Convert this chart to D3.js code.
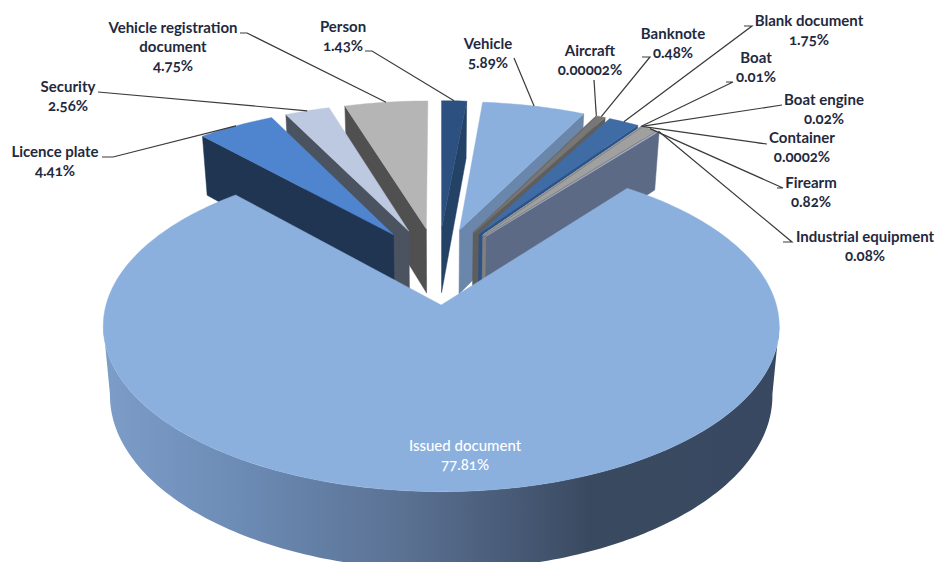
<!DOCTYPE html>
<html>
  <head>
    <title>Exploded 3D pie</title>
    <script src="https://cdn.jsdelivr.net/npm/d3@7"></script>
    <style>
      body { margin: 0; background: #fff; }
      text { font-family: Lato, "Open Sans", sans-serif; font-size: 15px; font-weight: 700; fill: #1f2a3f; font-variant-numeric: oldstyle-nums; font-feature-settings: "onum"; text-anchor: middle; }
    </style>
  </head>
  <body>
    <svg width="936" height="562" id="mainsvg" style="display: block;"></svg>
    <script>
    const categories = ['Vehicle', 'Aircraft', 'Banknote', 'Blank document', 'Boat', 'Boat engine', 'Container',
      'Firearm', 'Industrial equipment', 'Issued document', 'Licence plate', 'Security', 'Vehicle registration document', 'Person'];
    const values = [5.89, 0.00002, 0.48, 1.75, 0.01, 0.02, 0.0002, 0.82, 0.08, 77.81, 4.41, 2.56, 4.75, 1.43];
    const valueLabels = ['5.89%', '0.00002%', '0.48%', '1.75%', '0.01%', '0.02%', '0.0002%', '0.82%', '0.08%', '77.81%', '4.41%', '2.56%', '4.75%', '1.43%'];
    const topColors = ['#8bb0de', '#7a7a7a', '#777777', '#3f6ca5', '#4f84cf', '#bdc9e0', '#a0a0a0', '#a0a0a0', '#a9b6d0', '#8bb0de', '#4f84cf', '#bdc9e0', '#b5b5b5', '#2c5080'];
    const wallColors = ['#6a87ab', '#5e5e5e', '#5e5e5e', '#2d5386', '#2d5386', '#5c6a85', '#808080', '#808080', '#5c6a85', '#5c6a85', '#203552', '#4c5360', '#505050', '#234266'];

    // where the label text sits: [centre x, first line y], and the elbow of its leader
    const labelPos = [[488, 49], [590, 56], [673, 39], [809, 26], [756, 63], [824, 105], [802, 143],
      [811, 188], [865, 242], [465, 451], [55, 157], [68, 92], [173, 33], [343, 32]];
    const elbows = [[[514, 58]], [[594, 80]], [[642, 57], [650, 57]], [[744, 26], [752, 26]], [[726, 82], [733, 82]], [[782, 105]], [[757, 143], [767, 144]],
      [[777, 188], [783, 188]], [[783, 242], [792, 242]], null, [[102, 157], [113, 157]], [[98, 92]], [[240, 33], [247, 33]], [[365, 51], [372, 51]]];

    const svg = d3.select('#mainsvg');

    // perspective of the pie plane, fitted to the picture
    const cx = 438, cy = 265.6, scaleX = 324.7, scaleZ = 152.6, persp = 0.125;
    const explode = 0.25, thickness = 66, bottomShrink = 0.98;
    const rad = d => d * Math.PI / 180;

    function project(x, z, down) {
        const w = 1 + persp * z;
        const sx = scaleX * x / w * (down ? bottomShrink : 1);
        return [cx + sx, cy - scaleZ * z / w + (down ? thickness / w : 0)];
    }

    const arcs = d3.pie().sort(null).startAngle(rad(5.2)).endAngle(rad(365.2))(values);
    const line = d3.line();

    const slices = arcs.map((a, i) => {
        const mid = (a.startAngle + a.endAngle) / 2;
        return {i: i, a: a, mid: mid, ox: explode * Math.sin(mid), oz: explode * Math.cos(mid)};
    });
    const rimPoint = (s, t, down) => project(s.ox + Math.sin(t), s.oz + Math.cos(t), down);
    const apexPoint = (s, down) => project(s.ox, s.oz, down);

    function rimPoints(s, t0, t1, down) {
        const n = Math.max(2, Math.ceil((t1 - t0) / rad(1)));
        return d3.range(n + 1).map(k => rimPoint(s, t0 + (t1 - t0) * k / n, down));
    }

    const defs = svg.append('defs');
    const grad = defs.append('linearGradient').attr('id', 'wallGrad').attr('gradientUnits', 'userSpaceOnUse')
        .attr('x1', 105).attr('x2', 775).attr('y1', 0).attr('y2', 0);
    [[0, '#7d9dc9'], [0.2, '#6c8bb5'], [0.45, '#5a7192'], [0.65, '#43546f'], [0.72, '#394a60'], [1, '#384860']].forEach(d => {
        grad.append('stop').attr('offset', d[0]).attr('stop-color', d[1]);
    });

    // far slices first, the big one comes last
    const order = slices.slice().sort((p, q) => d3.descending(Math.cos(p.mid), Math.cos(q.mid)));

    order.forEach(s => {
        const g = svg.append('g');
        const big = s.a.endAngle - s.a.startAngle > Math.PI;
        if (big) {
            // from widest point to widest point, so the edges join top and bottom rims
            const t0 = rad(97), t1 = rad(263);
            const wall = rimPoints(s, t0, t1, false).concat(rimPoints(s, t0, t1, true).reverse());
            g.append('path').attr('d', line(wall) + 'Z').attr('fill', 'url(#wallGrad)');
        } else {
            // the cut side facing the viewer
            const t = Math.sin(s.mid) > 0 ? s.a.endAngle : s.a.startAngle;
            const wall = [apexPoint(s, false), rimPoint(s, t, false), rimPoint(s, t, true), apexPoint(s, true)];
            g.append('path').attr('d', line(wall) + 'Z').attr('fill', wallColors[s.i]).attr('stroke', wallColors[s.i]).attr('stroke-width', 0.5);
        }
        const top = [apexPoint(s, false)].concat(rimPoints(s, s.a.startAngle, s.a.endAngle, false));
        g.append('path').attr('d', line(top) + 'Z').attr('fill', topColors[s.i]).attr('stroke', topColors[s.i]).attr('stroke-width', 0.4);
    });

    // leaders
    slices.forEach(s => {
        if (!elbows[s.i]) return;
        const pts = elbows[s.i].concat([rimPoint(s, s.mid, false)]);
        svg.append('path').attr('d', line(pts)).attr('fill', 'none').attr('stroke', '#3a3a3a').attr('stroke-width', 1.2);
    });

    // labels
    const lineBreaks = {'Vehicle registration document': ['Vehicle registration', 'document']};
    categories.forEach((name, i) => {
        const lines = (lineBreaks[name] || [name]).concat([valueLabels[i]]);
        const t = svg.append('text').attr('x', labelPos[i][0]).attr('y', labelPos[i][1]);
        if (name === 'Issued document') t.style('fill', '#fff').style('font-weight', 500);
        t.selectAll('tspan').data(lines).join('tspan')
            .attr('x', labelPos[i][0])
            .attr('dy', (d, k) => k ? 19 : 0)
            .text(d => d);
    });
    </script>
  </body>
</html>
